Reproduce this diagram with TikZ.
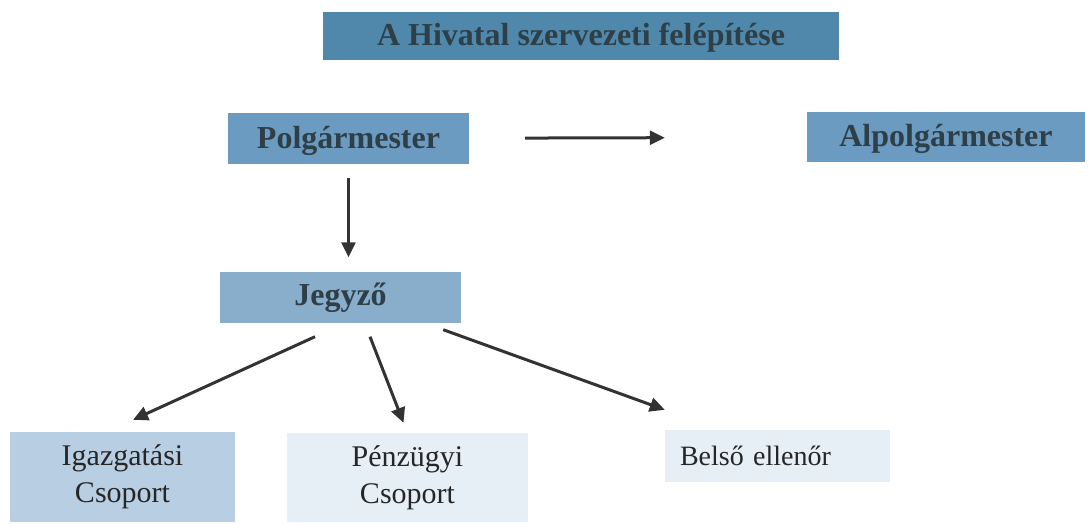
\documentclass[tikz,border=0pt]{standalone}
\usepackage{fontspec}
\setmainfont{Liberation Serif}
\usetikzlibrary{arrows.meta}
\tikzset{>={Triangle[length=15pt,width=14pt]}}
\definecolor{titleblue}{HTML}{4F88AA}
\definecolor{midblue}{HTML}{6B9BC0}
\definecolor{jegyblue}{HTML}{89AECB}
\definecolor{paleblue}{HTML}{B8CEE2}
\definecolor{iceblue}{HTML}{E6EEF6}
\definecolor{darktext}{HTML}{2F3F47}
\tikzset{
  headbox/.style={fill=#1, text=darktext, font=\fontsize{32}{38}\selectfont\bfseries, inner sep=0pt, text depth=3pt},
  groupbox/.style={fill=#1, text=black!85, font=\fontsize{30}{37}\selectfont, align=center, inner sep=0pt},
  conn/.style={->, draw=black!80, line width=3pt}
}

\begin{document}
\begin{tikzpicture}[x=1pt,y=-1pt]
\useasboundingbox (0,0) rectangle (1089,524);
% top row
\node[headbox=titleblue, minimum width=516pt, minimum height=48pt] (title) at (581,36) {A Hivatal szervezeti felépítése};
\node[headbox=midblue, minimum width=241pt, minimum height=51pt] (pol) at (348.5,138.5) {Polgármester};
\node[headbox=midblue, minimum width=278pt, minimum height=50pt] (alp) at (946,137) {Alpolgármester};
\node[headbox=jegyblue, minimum width=241pt, minimum height=51pt, text depth=6pt] (jegy) at (340.5,297) {Jegyző};
% groups
\node[groupbox=paleblue, minimum width=225pt, minimum height=90pt] (igaz) at (122.5,477) {Igazgatási\\Csoport};
\node[groupbox=iceblue, minimum width=241pt, minimum height=89pt] (penz) at (407.5,477.5) {Pénzügyi\\Csoport};
\node[fill=iceblue, text=black!85, font=\fontsize{28}{34}\selectfont, text width=195pt, inner xsep=15pt, inner ysep=0pt, minimum height=52pt, align=left] (belso) at (777.5,456) {Belső ellenőr};
% arrows
\draw[conn, shorten <=56pt, shorten >=142pt] (pol) -- (alp);
\draw[conn, shorten <=14pt, shorten >=14pt] (pol.south) -- (pol.south |- jegy.north);
\draw[conn] ([shift={(-25.5,14)}]jegy.south) -- ([shift={(10.5,-12)}]igaz.north);
\draw[conn] ([shift={(29.5,14)}]jegy.south) -- ([shift={(-4,-10)}]penz.north);
\draw[conn] ([shift={(-18,7)}]jegy.south east) -- ([shift={(0,-20)}]belso.north west);
\end{tikzpicture}
\end{document}
